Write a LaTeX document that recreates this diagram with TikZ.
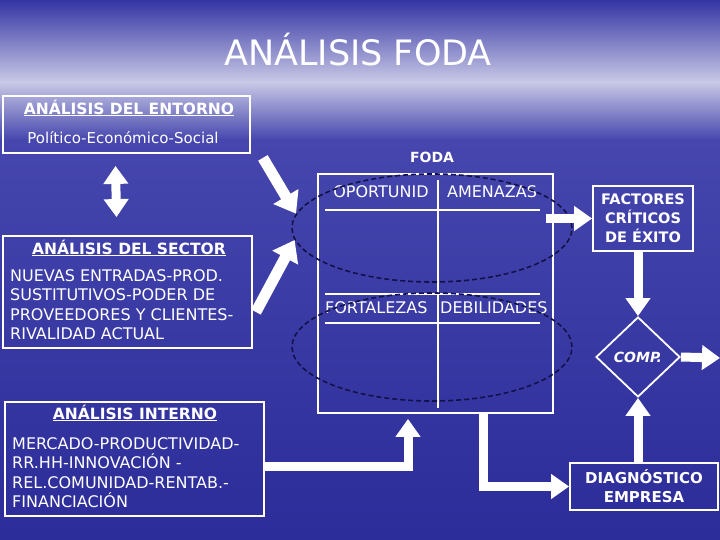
\documentclass[tikz,border=0pt]{standalone}
\usepackage{fontspec}
\setmainfont{DejaVu Sans}
\usetikzlibrary{arrows.meta,shapes.geometric,positioning}

\definecolor{skytop}{HTML}{3434A4}
\definecolor{skyhaze}{HTML}{C8C8E6}
\definecolor{skymid}{HTML}{4646AE}
\definecolor{skylow}{HTML}{2C2C9A}
\definecolor{ringnavy}{HTML}{12124A}

\tikzset{
  panel/.style={draw=white, line width=1.8pt, inner sep=0pt},
  headtext/.style={text=white, font=\bfseries\fontsize{15.5}{18}\selectfont, inner sep=0pt},
  bodytext/.style={text=white, font=\fontsize{16}{19.6}\selectfont, align=left, inner sep=0pt},
  celltext/.style={text=white, font=\fontsize{16}{18}\selectfont, inner sep=0pt},
  fatarrow/.style={draw=white, line width=9pt, line join=miter, -{Triangle[width=24pt,length=18pt]}},
  bigarrow/.style={draw=white, line width=11pt, -{Triangle[width=28pt,length=20pt]}},
  ring/.style={ellipse, draw=ringnavy, line width=1.6pt, dash pattern=on 5pt off 3pt, inner sep=0pt},
}

\begin{document}
\begin{tikzpicture}[x=1pt,y=-1pt]
    % Background
    \useasboundingbox (0,0) rectangle (720,540);
    \fill[top color=skytop, bottom color=skyhaze] (0,0) rectangle (720,82);
    \fill[top color=skyhaze, bottom color=skymid] (0,82) rectangle (720,140);
    \fill[top color=skymid, bottom color=skylow] (0,140) rectangle (720,540);

    % Title
    \node[text=white, font=\fontsize{35}{40}\selectfont] (title) at (358,50) {ANÁLISIS FODA};

    % Environment analysis
    \node[panel, minimum width=247pt, minimum height=57pt] (entorno) at (126.5,124.5) {};
    \node[headtext] (entornohead) at (129,108) {\underline{ANÁLISIS DEL ENTORNO}};
    \node[text=white, font=\fontsize{15}{18}\selectfont, inner sep=0pt] (entornobody) at (123,138) {Político-Económico-Social};

    % Sector analysis
    \node[panel, minimum width=249pt, minimum height=112pt] (sector) at (127.5,292) {};
    \node[headtext] (sectorhead) at (129,248) {\underline{ANÁLISIS DEL SECTOR}};
    \node[bodytext, anchor=north west] (sectorbody) at (10,269)
        {NUEVAS ENTRADAS-PROD.\\SUSTITUTIVOS-PODER DE\\PROVEEDORES Y CLIENTES-\\RIVALIDAD ACTUAL};

    % Internal analysis
    \node[panel, minimum width=259pt, minimum height=114pt] (interno) at (134.5,459) {};
    \node[headtext] (internohead) at (135,413) {\underline{ANÁLISIS INTERNO}};
    \node[bodytext, anchor=north west] (internobody) at (12,437)
        {MERCADO-PRODUCTIVIDAD-\\RR.HH-INNOVACIÓN -\\REL.COMUNIDAD-RENTAB.-\\FINANCIACIÓN};

    % FODA matrix
    \node[text=white, font=\bfseries\fontsize{14}{16}\selectfont] (fodahead) at (432,157) {FODA};
    \node[panel, minimum width=235pt, minimum height=239pt] (foda) at (435.5,293.5) {};
    \draw[white, line width=1.8pt] (438,180) -- (438,408);
    \draw[white, line width=1.8pt] (325,210) -- (540,210);
    \draw[white, line width=1.8pt] (325,294) -- (540,294);
    \draw[white, line width=1.8pt] (325,323) -- (540,323);
    \node[celltext] (oport) at (381,192) {OPORTUNID};
    \node[celltext] (amen) at (492,192) {AMENAZAS};
    \node[celltext, anchor=base west] (fort) at (325,313) {FORTALEZAS};
    \node[celltext, anchor=base west] (debil) at (440,313) {DEBILIDADES};

    % Dashed groupings
    \node[ring, minimum width=280pt, minimum height=108pt] (upper) at (432,228) {};
    \node[ring, minimum width=280pt, minimum height=108pt] (lower) at (432,347) {};

    % Right hand column
    \node[panel, minimum width=100pt, minimum height=65pt, text=white, align=center,
          font=\bfseries\fontsize{14.5}{19}\selectfont] (fce) at (643,218.5) {FACTORES\\CRÍTICOS\\DE ÉXITO};
    \node[diamond, draw=white, line width=1.8pt, inner sep=0pt, minimum width=84pt, minimum height=80pt,
          text=white, font=\bfseries\itshape\fontsize{14}{16}\selectfont] (comp) at (638,357) {COMP.};
    \node[panel, minimum width=148pt, minimum height=47pt, text=white, align=center,
          font=\bfseries\fontsize{15}{19}\selectfont] (diag) at (644,486.5) {DIAGNÓSTICO\\EMPRESA};
    \coordinate (exit) at (720,358);

    % Arrows
    \draw[fatarrow, {Triangle[width=24pt,length=18pt]}-{Triangle[width=24pt,length=18pt]}]
        ([shift={(-11pt,-12pt)}]entorno.south) -- ([shift={(-11pt,18pt)}]sector.north);
    \draw[bigarrow] ([shift={(12pt,-4pt)}]entorno.south east) -- (upper.174);
    \draw[bigarrow] ([shift={(3pt,-20pt)}]sector.east) -- (upper.185);
    \draw[fatarrow] ([xshift=-8pt]foda.east |- fce.west) -- (fce.west);
    \draw[fatarrow] (fce.south -| comp.north) -- (comp.north);
    \draw[fatarrow] (comp.east) -- (exit);
    \draw[fatarrow] (diag.north -| comp.south) -- (comp.south);
    \draw[fatarrow] ([yshift=-7pt]interno.east) -| ([shift={(-27.5pt,-5pt)}]foda.south);
    \draw[fatarrow] ([xshift=47.5pt]foda.south) |- (diag.west);
\end{tikzpicture}
\end{document}
